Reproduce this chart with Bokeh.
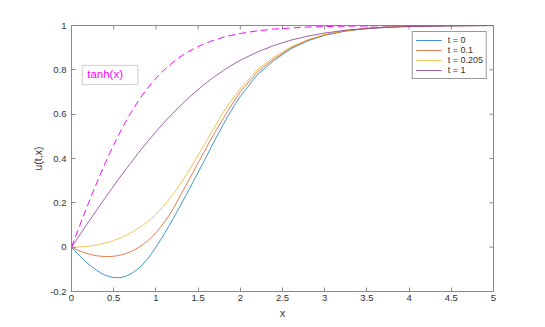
from bokeh.plotting import figure
from bokeh.models import Legend, LegendItem, Label, BoxAnnotation, FixedTicker, Range1d
from bokeh.embed import file_html
from bokeh.resources import INLINE

# ---- data ----
xs = [0, 0.05, 0.1, 0.15, 0.2, 0.25, 0.3, 0.35, 0.4, 0.45, 0.5, 0.55, 0.6, 0.65, 0.7,
      0.75, 0.8, 0.85, 0.9, 0.95, 1.0, 1.05, 1.1, 1.15, 1.2, 1.25, 1.3, 1.35, 1.4, 1.45,
      1.5, 1.55, 1.6, 1.65, 1.7, 1.75, 1.8, 1.85, 1.9, 1.95, 2.0,
      2.2, 2.4, 2.6, 2.8, 3.0, 3.25, 3.5, 3.75, 4.0, 4.5, 5.0]

u_t0 = [0, -0.021, -0.041, -0.059, -0.076, -0.091, -0.105, -0.117, -0.127, -0.133,
        -0.137, -0.138, -0.136, -0.130, -0.121, -0.109, -0.094, -0.075, -0.054, -0.028,
        0.0, 0.03, 0.061, 0.093, 0.126, 0.16, 0.195, 0.23, 0.265, 0.301,
        0.337, 0.373, 0.41, 0.447, 0.484, 0.52, 0.555, 0.589, 0.621, 0.652, 0.68,
        0.777, 0.843, 0.895, 0.931, 0.956, 0.975, 0.986, 0.993, 0.997, 0.999, 1.0]
u_t01 = [0, -0.009, -0.017, -0.024, -0.030, -0.035, -0.039, -0.041, -0.042, -0.042,
         -0.041, -0.038, -0.034, -0.028, -0.020, -0.011, 0.0, 0.013, 0.028, 0.045,
         0.065, 0.088, 0.113, 0.14, 0.17, 0.205, 0.24, 0.275, 0.31, 0.345,
         0.38, 0.415, 0.45, 0.485, 0.518, 0.55, 0.582, 0.613, 0.643, 0.672, 0.70,
         0.79, 0.85, 0.90, 0.934, 0.958, 0.976, 0.987, 0.993, 0.997, 0.999, 1.0]
u_t0205 = [0, 0.0, 0.001, 0.002, 0.004, 0.007, 0.01, 0.014, 0.019, 0.024,
           0.03, 0.037, 0.045, 0.054, 0.064, 0.075, 0.087, 0.1, 0.114, 0.13,
           0.148, 0.168, 0.19, 0.213, 0.238, 0.264, 0.291, 0.32, 0.35, 0.382,
           0.415, 0.448, 0.48, 0.513, 0.545, 0.578, 0.61, 0.638, 0.665, 0.69, 0.715,
           0.80, 0.858, 0.903, 0.936, 0.959, 0.977, 0.987, 0.993, 0.997, 0.999, 1.0]
u_t1 = [0, 0.028, 0.056, 0.085, 0.113, 0.140, 0.168, 0.196, 0.223, 0.250,
        0.276, 0.303, 0.329, 0.354, 0.379, 0.404, 0.428, 0.452, 0.476, 0.498,
        0.521, 0.542, 0.563, 0.584, 0.604, 0.623, 0.642, 0.660, 0.678, 0.695,
        0.711, 0.727, 0.742, 0.757, 0.771, 0.784, 0.797, 0.809, 0.821, 0.832, 0.843,
        0.880, 0.910, 0.934, 0.952, 0.966, 0.979, 0.987, 0.992, 0.995, 0.9985, 0.9996]
tanh_x = [0, 0.050, 0.0997, 0.149, 0.197, 0.245, 0.291, 0.336, 0.380, 0.422,
          0.462, 0.500, 0.537, 0.572, 0.604, 0.635, 0.664, 0.691, 0.716, 0.740,
          0.762, 0.782, 0.800, 0.818, 0.834, 0.848, 0.862, 0.874, 0.885, 0.896,
          0.905, 0.914, 0.922, 0.929, 0.935, 0.941, 0.947, 0.952, 0.956, 0.960, 0.964,
          0.976, 0.984, 0.989, 0.993, 0.995, 0.997, 0.998, 0.999, 0.9993, 0.9998, 1.0]

series_labels = ["t = 0", "t = 0.1", "t = 0.205", "t = 1"]
series_colors = ["#0072BD", "#D95319", "#EDB120", "#7E2F8E"]

x_ticks = [0, 0.5, 1, 1.5, 2, 2.5, 3, 3.5, 4, 4.5, 5]
x_tick_labels = ["0", "0.5", "1", "1.5", "2", "2.5", "3", "3.5", "4", "4.5", "5"]
y_ticks = [-0.2, 0, 0.2, 0.4, 0.6, 0.8, 1]
y_tick_labels = ["-0.2", "0", "0.2", "0.4", "0.6", "0.8", "1"]

FONT = "Liberation Sans"
AX = "#8a8a8a"
TXT = "#333333"

p = figure(frame_width=422, frame_height=266, output_backend="svg", toolbar_location=None,
           x_range=Range1d(x_ticks[0], x_ticks[-1]), y_range=Range1d(y_ticks[0], y_ticks[-1]),
           min_border_left=71, min_border_top=25, min_border_bottom=30, min_border_right=30)
p.background_fill_color = "white"
p.border_fill_color = "white"
p.outline_line_color = AX
p.outline_line_width = 1
p.grid.grid_line_color = None


def style_axis(ax, ticks, labels):
    ax.ticker = FixedTicker(ticks=ticks)
    ax.major_label_overrides = {t: l for t, l in zip(ticks, labels)}
    ax.axis_line_color = AX
    ax.axis_line_width = 1
    ax.major_tick_line_color = AX
    ax.major_tick_in = 4
    ax.major_tick_out = 0
    ax.minor_tick_line_color = None
    ax.major_label_text_font = FONT
    ax.major_label_text_color = TXT
    ax.major_label_text_font_size = "9.5px"
    ax.axis_label_text_font = FONT
    ax.axis_label_text_font_style = "normal"
    ax.axis_label_text_font_size = "10.5px"
    ax.axis_label_text_color = TXT
    ax.axis_label_standoff = 3


style_axis(p.xaxis[0], x_ticks, x_tick_labels)
style_axis(p.yaxis[0], y_ticks, y_tick_labels)
p.xaxis[0].major_label_standoff = 3
p.yaxis[0].major_label_standoff = 5
p.xaxis[0].axis_label = "x"
p.yaxis[0].axis_label = "u(t,x)"

# inward ticks on the top and right sides of the box (half of each dash is clipped by the frame)
p.scatter(x_ticks, [y_ticks[-1]] * len(x_ticks), marker="dash", size=8, angle=1.5707963,
          line_color=AX, line_width=1)
p.scatter([x_ticks[-1]] * len(y_ticks), y_ticks, marker="dash", size=8,
          line_color=AX, line_width=1)

renderers = []
for ys, c in zip([u_t0, u_t01, u_t0205, u_t1], series_colors):
    r = p.line(xs, ys, line_color=c, line_width=1, line_alpha=0.75)
    renderers.append(r)

p.line(xs, tanh_x, line_color="#FF00FF", line_width=1, line_dash="7 4")

box = BoxAnnotation(left=0.127, right=0.786, bottom=0.733, top=0.82,
                    fill_color="white", fill_alpha=1, line_color="#333333", line_width=0.8)
p.add_layout(box)
p.add_layout(Label(x=0.186, y=0.779, text="tanh(x)", text_color="#FF00FF",
                   text_font=FONT, text_font_size="11.5px", text_baseline="middle"))

legend = Legend(items=[LegendItem(label=l, renderers=[r]) for l, r in zip(series_labels, renderers)],
                location="top_right", margin=6, padding=3, spacing=-3,
                label_text_font=FONT, label_text_font_size="9px", label_text_color=TXT,
                label_height=8, glyph_height=8, glyph_width=26, label_standoff=6,
                border_line_color="#333333", border_line_width=0.8,
                background_fill_color="white", background_fill_alpha=1)
p.add_layout(legend)

open("out.html", "w").write(file_html(p, INLINE))
